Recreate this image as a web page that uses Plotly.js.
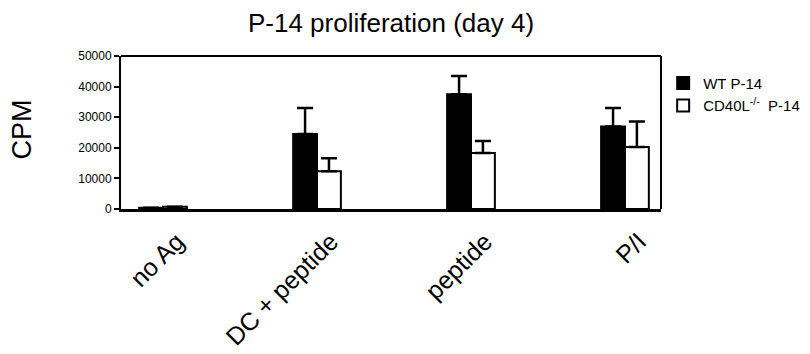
<!DOCTYPE html>
<html>
<head>
<meta charset="utf-8">
<script src="https://cdn.plot.ly/plotly-3.0.1.min.js"></script>
<style>html,body{margin:0;padding:0;background:#fff;}#chart{width:810px;height:354px;}</style>
</head>
<body>
<div id="chart"></div>
<script>
var categories = ["no Ag", "DC + peptide", "peptide", "P/I"];
var wtValues = [400, 24500, 37500, 27000];
var wtErrors = [0, 8500, 6000, 6000];
var koValues = [700, 12300, 18300, 20300];
var koErrors = [0, 4300, 3900, 8300];
var yTicks = [0, 10000, 20000, 30000, 40000, 50000];
var seriesNames = ["WT P-14", "CD40L<sup>-/-</sup>  P-14"];

var FONT = "Liberation Sans, Arial, Helvetica, sans-serif";

var traces = [
  {
    type: "bar", name: seriesNames[0], x: categories, y: wtValues,
    marker: {color: "#000000", line: {color: "#000000", width: 2}},
    error_y: {type: "data", symmetric: false, array: wtErrors, arrayminus: [0,0,0,0],
              color: "#000000", thickness: 2.5, width: 8}
  },
  {
    type: "bar", name: seriesNames[1], x: categories, y: koValues,
    marker: {color: "#ffffff", line: {color: "#000000", width: 2}},
    error_y: {type: "data", symmetric: false, array: koErrors, arrayminus: [0,0,0,0],
              color: "#000000", thickness: 2.5, width: 8}
  }
];

var layout = {
  width: 810, height: 354,
  margin: {l: 121, r: 149, t: 56, b: 145, autoexpand: false},
  paper_bgcolor: "#ffffff", plot_bgcolor: "#ffffff",
  font: {family: FONT, color: "#000000"},
  barmode: "group", bargap: 0.69, bargroupgap: 0,
  showlegend: true,
  title: {text: "P-14 proliferation (day 4)", font: {family: FONT, size: 26, color: "#000"},
          x: 0.5, xref: "paper", xanchor: "center", y: 0.935, yref: "container", yanchor: "middle"},
  xaxis: {
    type: "category", range: [-0.273, 3.234], automargin: false,
    showline: true, linecolor: "#000", linewidth: 3, mirror: false,
    showgrid: false, zeroline: false, ticks: "",
    tickangle: -45, tickfont: {family: FONT, size: 25, color: "#000"},
    ticklabelstandoff: 5, ticklabelshift: 14
  },
  yaxis: {
    range: [0, 50000], tickvals: yTicks, tickformat: "d", automargin: false,
    showline: true, linecolor: "#000", linewidth: 2, mirror: false,
    showgrid: false, zeroline: false,
    ticks: "outside", ticklen: 5, tickwidth: 2, tickcolor: "#000",
    tickfont: {family: FONT, size: 12, color: "#000"}
  },
  legend: {
    x: 1.004, xanchor: "left", y: 0.93, yanchor: "top",
    font: {family: FONT, size: 15, color: "#000"},
    bgcolor: "rgba(0,0,0,0)", itemwidth: 30, tracegroupgap: 0
  },
  shapes: [
    {type: "line", xref: "paper", yref: "paper", x0: 0, x1: 1, y0: 1, y1: 1, line: {color: "#000", width: 2}},
    {type: "line", xref: "paper", yref: "paper", x0: 1, x1: 1, y0: 0, y1: 1, line: {color: "#000", width: 2}}
  ],
  annotations: [
    {text: "CPM", xref: "paper", yref: "paper", x: -0.183, y: 0.52, xanchor: "center", yanchor: "middle",
     textangle: -90, showarrow: false, font: {family: FONT, size: 27, color: "#000"}}
  ]
};

Plotly.newPlot("chart", traces, layout, {displayModeBar: false, staticPlot: true});
</script>
</body>
</html>
